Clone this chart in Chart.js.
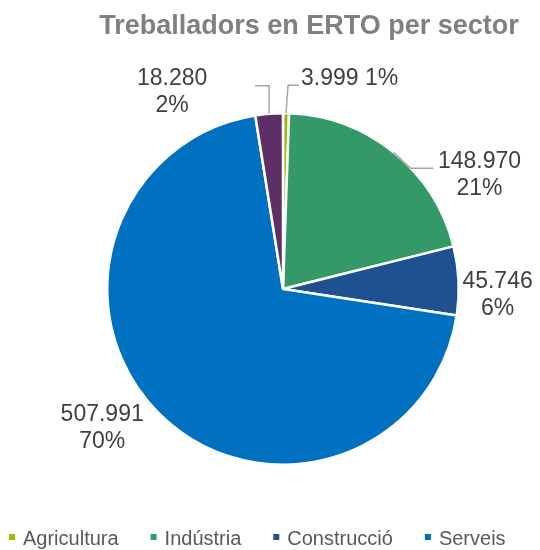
<!DOCTYPE html>
<html>
<head>
<meta charset="utf-8">
<script src="https://cdn.jsdelivr.net/npm/chart.js@4"></script>
<style>
  body { margin: 0; background: #fff; }
  #wrap { width: 540px; height: 550px; }
</style>
</head>
<body>
<div id="wrap"><canvas id="chart" width="540" height="550"></canvas></div>
<script>
// data
const sectors = ["Agricultura", "Indústria", "Construcció", "Serveis", "Altres"];
const workers = [3999, 148970, 45746, 507991, 18280];
const valueLabels = ["3.999", "148.970", "45.746", "507.991", "18.280"];
const pctLabels = ["1%", "21%", "6%", "70%", "2%"];
const legendShown = ["Agricultura", "Indústria", "Construcció", "Serveis"];

const colors = ["#9fb80a", "#339966", "#1f5190", "#0070c0", "#5e2f66"];

// label placement relative to the slice's outer edge midpoint
// leader: relative points for the elbow line, text: {dx, dy, align, inline}
const labelStyle = [
  { leader: [[2, -28], [13, -28]], text: { dx: 15, dy: -41, align: "left", inline: true } },
  { leader: [[17, 16], [40, 16]], text: { dx: 86, dy: 22, align: "center" } },
  { leader: null, text: { dx: 39, dy: 14, align: "center" } },
  { leader: null, text: { dx: -57, dy: 14, align: "center" } },
  { leader: [[0, -28], [-14, -28]], text: { dx: -97, dy: -22, align: "center" } },
];

const labelPlugin = {
  id: "labels",
  afterDraw(chart) {
    const ctx = chart.ctx;
    const arcs = chart.getDatasetMeta(0).data;
    ctx.save();
    // title
    ctx.fillStyle = "#808080";
    ctx.font = "bold 27px 'Liberation Sans', Arial, sans-serif";
    ctx.textAlign = "center";
    ctx.textBaseline = "alphabetic";
    ctx.fillText("Treballadors en ERTO per sector", 309, 34);

    // data labels
    ctx.font = "23px 'Liberation Sans', Arial, sans-serif";
    ctx.textBaseline = "middle";
    arcs.forEach((arc, i) => {
      const p = arc.getProps(["x", "y", "startAngle", "endAngle", "outerRadius"], true);
      const mid = (p.startAngle + p.endAngle) / 2;
      const ex = p.x + Math.cos(mid) * p.outerRadius;
      const ey = p.y + Math.sin(mid) * p.outerRadius;
      const st = labelStyle[i];
      if (st.leader) {
        ctx.strokeStyle = "#a6a6a6";
        ctx.lineWidth = 1.5;
        ctx.beginPath();
        ctx.moveTo(ex, ey);
        st.leader.forEach(pt => ctx.lineTo(ex + pt[0], ey + pt[1]));
        ctx.stroke();
      }
      ctx.fillStyle = "#404040";
      ctx.textAlign = st.text.align;
      const tx = ex + st.text.dx;
      const ty = ey + st.text.dy;
      if (st.text.inline) {
        ctx.fillText(valueLabels[i] + " " + pctLabels[i], tx, ty + 6);
      } else {
        ctx.fillText(valueLabels[i], tx, ty - 13);
        ctx.fillText(pctLabels[i], tx, ty + 14);
      }
    });

    // legend
    ctx.font = "20px 'Liberation Sans', Arial, sans-serif";
    ctx.textAlign = "left";
    ctx.textBaseline = "alphabetic";
    let x = 9;
    const y = 545;
    legendShown.forEach(name => {
      const idx = sectors.indexOf(name);
      ctx.fillStyle = colors[idx];
      ctx.fillRect(x, y - 11, 6, 6);
      x += 14;
      ctx.fillStyle = "#595959";
      ctx.fillText(name, x, y);
      x += ctx.measureText(name).width + 32;
    });
    ctx.restore();
  }
};

new Chart(document.getElementById("chart"), {
  type: "pie",
  data: {
    labels: sectors,
    datasets: [{
      data: workers,
      backgroundColor: colors,
      borderColor: "#ffffff",
      borderWidth: 2.5,
    }],
  },
  options: {
    responsive: false,
    animation: false,
    layout: { padding: { left: 106, right: 80, top: 112, bottom: 84 } },
    plugins: {
      legend: { display: false },
      title: { display: false },
      tooltip: { enabled: false },
    },
  },
  plugins: [labelPlugin],
});
</script>
</body>
</html>
